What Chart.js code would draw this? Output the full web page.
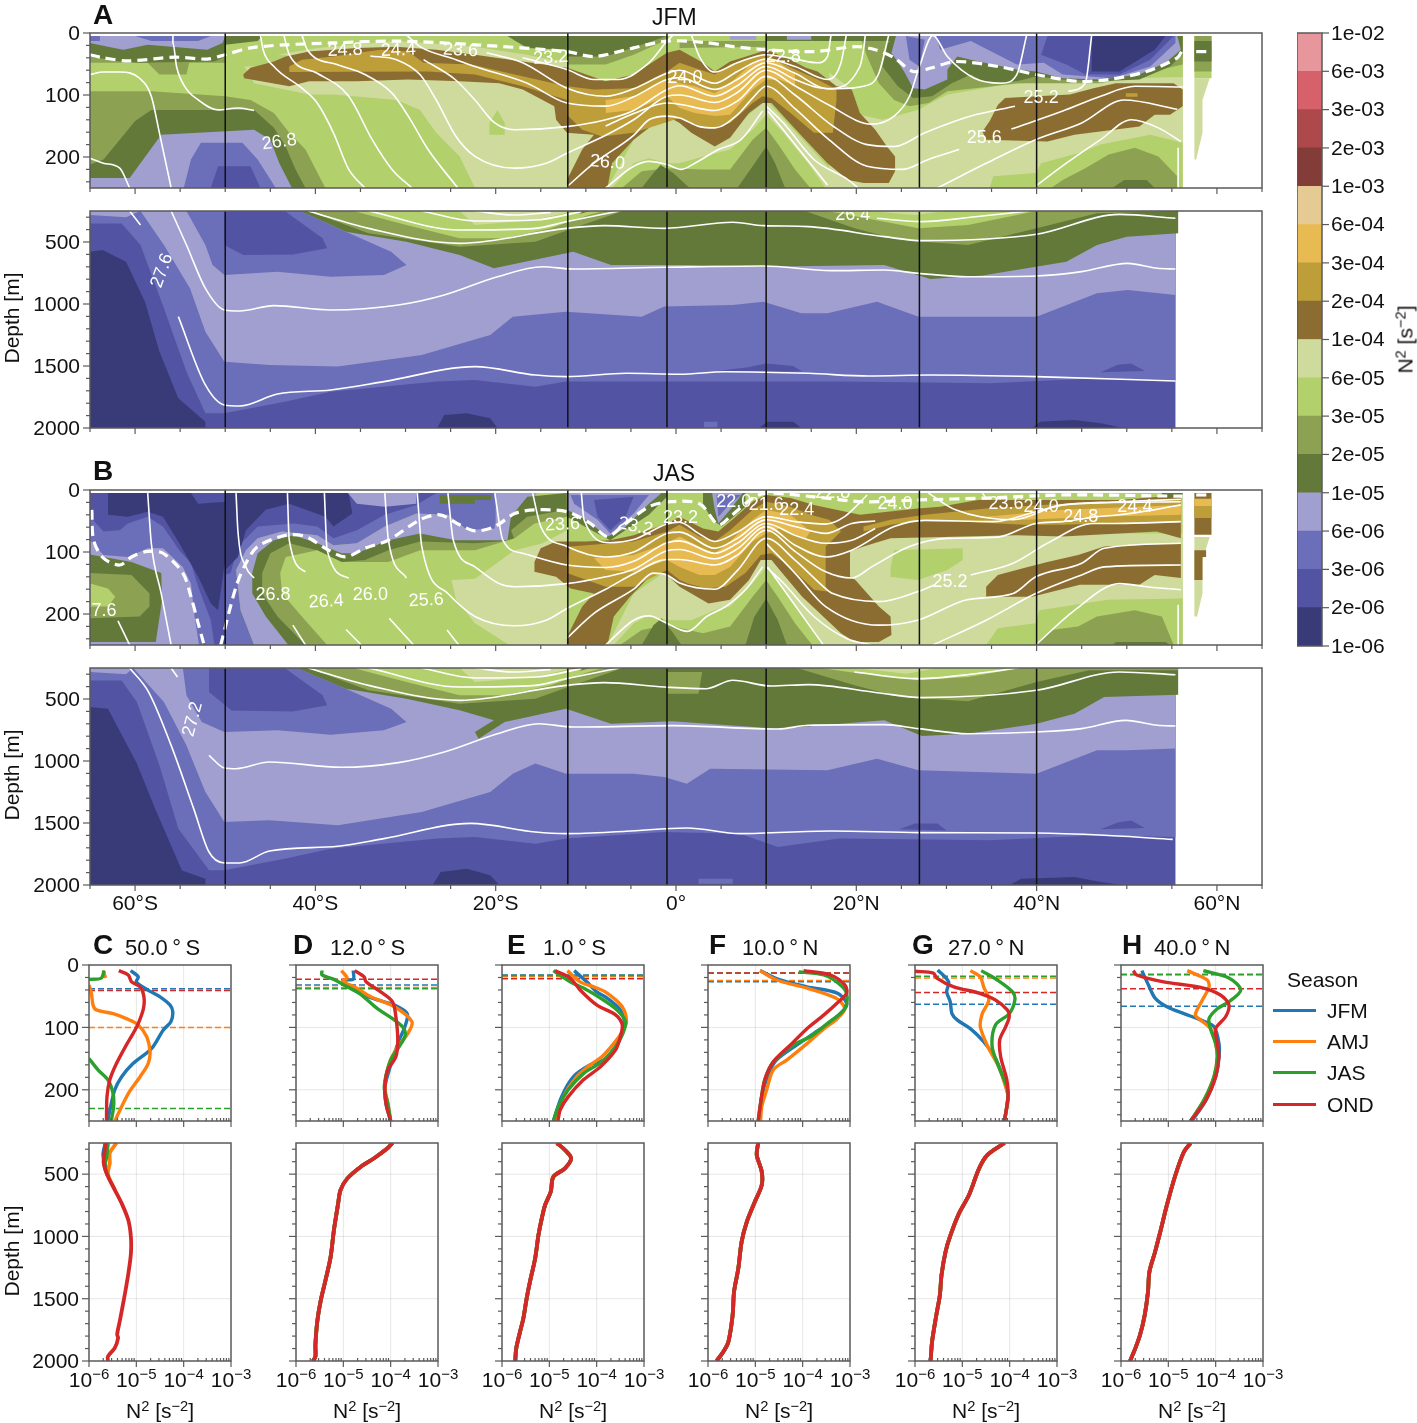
<!DOCTYPE html>
<html>
<head>
<meta charset="utf-8">
<title>N2 sections</title>
<script src="https://cdn.jsdelivr.net/npm/chart.js@4"></script>
<style>
  html, body { margin: 0; background: #fff; }
  #page { position: relative; width: 1417px; height: 1423px; overflow: hidden; font-family: "Liberation Sans", Arial, sans-serif; color: #111; }
  #page canvas { position: absolute; }
  .t { position: absolute; white-space: nowrap; line-height: 1; }
  .t sup { font-size: 0.7em; line-height: 0; vertical-align: 0.45em; }
</style>
</head>
<body>
<div id="page"></div>
<script>
// colour levels of the N2 colourbar, bottom to top
const levelColors = ["#393b79","#5254a3","#6b6eb8","#a09fd0","#637939","#8ca252","#b2d06c","#cedb9c","#8c6d31","#bd9e39","#e7ba52","#e5ca94","#843c39","#ad494a","#d6616b","#e7969c"];
const cbarLabels = ["1e-06","2e-06","3e-06","6e-06","1e-05","2e-05","3e-05","6e-05","1e-04","2e-04","3e-04","6e-04","1e-03","2e-03","3e-03","6e-03","1e-02"];

const stationLats = [-50,-12,-1,10,27,40];
const latTicks = [-60,-40,-20,0,20,40,60];
const latNames = ["60°S","40°S","20°S","0°","20°N","40°N","60°N"];
const latMinor = [-65,-55,-50,-45,-35,-30,-25,-15,-10,-5,5,10,15,25,30,35,45,50,55,65];
const upTicks = [0,100,200];
const upMinor = [20,40,60,80,120,140,160,180,220,240];
const lowTicks = [500,1000,1500,2000];
const lowMinor = [300,400,600,700,800,900,1100,1200,1300,1400,1600,1700,1800,1900];
const n2Ticks = [1e-6,1e-5,1e-4,1e-3];
const n2Exps = ["−6","−5","−4","−3"];
const n2Minor = [2e-6,3e-6,4e-6,5e-6,6e-6,7e-6,8e-6,9e-6,2e-5,3e-5,4e-5,5e-5,6e-5,7e-5,8e-5,9e-5,2e-4,3e-4,4e-4,5e-4,6e-4,7e-4,8e-4,9e-4];

// ---- section A, top 250 m: [level, lat,depth, lat,depth, ...] painted in order
const A_up = [
 [6, -65,5, 56.2,5, 56.2,250, -65,250],
 [5, -65,94,-58.2,94,-50,102,-47.2,108,-44.6,129,-42.9,161,-41.1,188,-38.9,250,-65,250],
 [4, -65,212,-63.5,204,-61.7,172,-60,142,-58.2,124,-46.8,124,-44.6,153,-43.3,183,-42.2,220,-41.1,250,-65,250],
 [3, -65,234,-60.6,234,-59.1,204,-57.1,164,-46.8,156,-45,172,-44,210,-42.6,250,-65,250],
 [2, -54.6,250,-53.8,204,-52.7,177,-48.1,177,-46.4,204,-44.4,250],
 [1, -51.6,250,-50.8,215,-47.2,215,-46.1,250],
 [5, -65,5,-50,5,-50,48,-54,48,-54.3,67,-57.3,67,-58.6,48,-65,48],
 [4, -65,5,-50,5,-50,38,-51.2,46,-59.5,48,-61.7,46,-65,38],
 [3, -65,5,-50,5,-50.3,16,-52,27,-58.6,19,-61.3,27,-63,22,-65,16],
 [2, -65,5,-63.9,5,-63.9,13,-65,13],
 [2, -60,5,-51.6,5,-53,13,-58.2,13],
 [4, -50,5,-45.9,5,-46.4,13,-50,19],
 [5, -17.9,13,-12.1,16,-12.1,51,-7.8,51,-4.7,35,-1,11,-1,5,-17.9,5],
 [4, -18.7,5,-12.1,5,-12.1,27,-16.5,24],
 [4, -12.1,5,-1,5,-3.8,19,-7.8,38,-12.1,38],
 [5, .4,13,10,13,10,22,.4,24],
 [3, 6,5,8.9,5,8.9,11,6,11],
 [4, 10,5,15,5,15,13,10,13],
 [3, 12.3,5,16.8,5,16.8,11,12.3,11],
 [7, -47.9,54,-12.1,43,-12.1,250,-22.3,250,-24,199,-26.6,161,-28.4,124,-31,108,-38,99,-40.7,99,-46.8,81],
 [7, -44.2,35,-39.8,24,-31,13,-22.3,22,-16.5,35,-12.1,48,-12.1,70],
 [6, -19.8,124,-19,145,-19,164,-20.7,164,-20.7,145],
 [7, -12.1,161,-8.7,164,-12.1,237],
 [7, 17,60,56.2,60,56.2,250,17,250],
 [6, 17.4,5,56.2,5,56.2,71,42.9,75,35.7,85,30.1,99,26.8,124,22.9,140,20.4,132,19.5,91,16.1,54],
 [5, 20.4,5,56.2,5,56.2,51,47.1,81,37.8,81,34.4,87,30.1,94,28,113,25.9,118,24.2,108,22.5,81,21.2,38],
 [4, 24.4,5,56.2,5,56.2,35,54.8,54,51.4,75,47.1,78,42.9,75,39.9,70,37.8,78,34.4,81,32.7,67,30.6,81,28.4,102,26.3,105,24.6,86,22.9,54,23.5,16],
 [4, 15,5,24.4,5,24.4,13,15,13],
 [3, 24.4,5,23.9,32,25.3,62,26.3,89,27.6,91,30.1,75,30.1,59,31.2,38,32.7,43,37.8,59,39.9,62,42.9,73,47.1,75,51.4,67,54.3,48,56,27,55.6,5],
 [2, 25.5,5,25.9,43,27,54,27.6,11],
 [2, 28.9,5,29.3,27,32.7,13,37.8,51,40.8,48,42.9,67,48.4,73,52.6,54,55.4,16,55.4,5],
 [1, 41.2,5,40.5,35,43.3,51,45.4,67,49.2,67,52.6,43,55.2,5],
 [0, 46.1,5,46.1,62,49.2,62,53.1,27,54.3,5],
 [6, 34.8,250,35.2,231,39.9,226,40.5,210,44.6,194,47.1,180,52.6,164,56.2,177,56.2,250],
 [5, 41.6,250,42.9,237,45.4,218,48,196,50.9,185,53.5,199,55.6,231,55.6,250],
 [4, 48.4,250,49.7,237,52.2,237,53.1,250],
 [8, 35.7,116,36.5,105,43.7,99,46.3,89,48.8,81,55.2,81,56.2,91,56.2,118,54.8,132,53.1,132,51.4,151,44.2,164,41.2,175,34.4,172,34,159,34.8,142],
 [9, 49.9,97,51.2,97,51.2,103,49.9,103],
 [7, -7.6,250,-4.7,172,-1,132,4.3,177,10,108,16.8,215,20.4,250],
 [6, -7.1,250,-4.7,210,-3,202,-1,210,.4,210,3,199,6,188,8.5,156,10,132,11.9,161,14.9,215,16.6,250],
 [5, -6,250,-3.8,223,-1,218,3,220,6,220,8.5,172,10,153,11.5,183,13.2,220,14.9,250],
 [4, -3.8,250,-2.5,226,-1.7,213,-.3,226,1.5,250],
 [4, 6.8,250,8.5,215,10,183,11,210,12.1,250],
 [8, -48,67,-47.2,56,-44.6,46,-43.3,38,-40.7,30,-35.4,24,-31,22,-26.6,27,-22.3,35,-17,46,-12.1,56,-7.8,78,-4.7,67,-1,32,.4,27,3,48,4.3,62,6,46,9.1,32,10,27,12.7,43,14.4,56,15.7,62,17.8,86,19.5,91,20.4,129,22.1,156,23.4,183,24.3,199,24.3,223,23.6,242,20.8,242,19.1,237,16.8,210,14,167,11.9,134,10.6,113,9.6,113,8.1,129,6,169,4.3,183,1.7,161,.4,145,-1,134,-3,153,-4.7,172,-7.1,210,-7.6,250,-12.1,250,-12.1,237,-10.4,188,-9.1,164,-12.1,161,-13.3,140,-13.5,118,-17,91,-19.6,81,-24,78,-29.7,75,-35.4,78,-40.7,78,-42.9,86,-47.9,73],
 [9, -42.9,54,-41.5,43,-38,38,-32.8,27,-29.7,30,-28,48,-22.7,51,-17.9,67,-12.1,86,-9.1,91,-4.7,89,-1,62,.4,48,2.6,59,4.3,67,6,51,9.1,35,10,35,13.2,59,15.7,75,17.8,91,17.8,108,17.4,161,15.3,161,12.7,129,10.6,105,9.6,102,8.5,113,6,145,4.3,153,2.6,151,.4,137,-4.7,161,-8.2,167,-10.4,156,-12.1,132,-12.1,108,-17,86,-22.3,67,-27.5,62,-42.9,63],
 [10, -7.8,108,-4.7,102,-1,75,.4,81,2.1,86,4.3,97,6,81,8.5,48,10,40,11.5,48,13.2,67,13.2,86,11.5,75,10,75,8.5,91,6,132,4.3,134,2.1,129,.4,121,-1,102,-4.7,124,-7.8,129],
 [6, 57.5,5,59.4,5,59.4,73,57.5,73],
 [5, 57.5,5,59.4,5,59.4,62,57.5,62],
 [4, 57.5,13,59.4,13,59.4,46,57.5,46],
 [7, 57.5,73,59.2,73,58.4,108,58.4,161,57.7,204,57.5,204]
];
// isopycnals: lat,depth pairs
const A_up_lines = [
 [-65,67,-63.5,63,-61.7,63,-59.5,73,-58.2,102,-57.3,161,-56,250],
 [-55.8,3,-55.8,16,-55.4,54,-54.5,86,-53,108,-50.8,124,-48.6,121,-46.8,125],
 [-65,202,-63.5,210,-61.7,218,-60.6,250],
 [-46.1,3,-45.8,27,-44.6,54,-41.5,89,-39.8,113,-38,161,-36.3,220,-34.5,250],
 [-43.5,3,-42.9,35,-39.8,65,-36.3,102,-33.7,172,-31.5,220,-29.3,250],
 [-41.5,3,-40.9,27,-37.6,51,-34.5,67,-31.5,97,-29.7,134,-27.5,188,-24.2,250],
 [-33.9,37,-31,43,-28.4,67,-26.6,108,-24.4,167,-22.3,199,-17.9,218,-14.4,210,-12.1,194,-7.8,165,-4.7,140,-1,102,.4,100,4.3,112,6.8,96,10,60,13.2,85,16.8,115,21.7,147,24.2,134,25.9,102,27,54,28.5,4,30.1,38,33.1,73,36.1,81,37.8,67,38.9,3],
 [-28,43,-24.5,75,-22.3,108,-20.1,145,-17.9,156,-12.1,151,-7.8,140,-4.7,125,-1,91,.4,85,4.3,102,6.8,85,10,54,13.2,75,15.7,88,17.8,90,20.8,86,22.5,65,23.6,3],
 [-21,32,-17,48,-12.1,89,-7.8,102,-4.7,90,-1,65,.4,60,4.3,81,6.8,62,10,42,13.2,54,16.8,75,18.3,48,18.9,3],
 [-29.9,3,-28.4,22,-24.4,43,-22.3,54,-16.5,81,-12.1,113,-7.8,118,-4.7,103,-1,75,.4,72,4.3,91,6.8,75,10,48,13.2,65,16.8,90,20.4,54,20.8,27,21,3],
 [-17,40,-12.1,59,-9.1,75,-6.4,75,-3,48,-1,13,-.3,3],
 [1.7,3,2.6,38,4.3,63,6.8,48,10,35,13.2,42,15.7,48,16.8,38,17.2,3],
 [-7.8,150,-4.7,130,-1,113,.4,115,4.3,125,6.8,110,10,70,13.2,100,17.4,150,21.2,180,24.2,183,27.6,161,32.7,134,37.6,118],
 [43.5,94,45.4,81,46.1,5],
 [-12.1,248,-9.1,210,-4.7,165,-3,140,-1,134,.4,137,2.6,151,4.3,153,6.8,132,8.5,105,10,86,13.2,122,16.8,170,21.2,215,25.1,220,28,204,31.4,188],
 [37.2,155,42.9,126,47.1,102,50.9,86,56.2,87],
 [-7.8,250,-4.7,215,-3,207,-1,212,.6,220,2.1,210,4.7,188,7.2,172,9.6,126],
 [10.2,126,11.9,156,16.8,245],
 [10,118,11.9,145,15.3,204,19.1,237,20.2,250],
 [29,250,34.4,210,39.9,172,45,145,49.7,108,55.6,123],
 [39.9,247,43.3,210,47.1,172,50.5,140,53.5,153,56,175],
 [55.7,185,55.7,250]
];
const A_up_mld = [[-65,35,-63.5,40,-60.8,45,-55.6,39,-52,42,-50,35,-47.2,24,-43.3,19,-38,16,-31,13,-22.3,19,-12.1,30,-9.1,38,-4.7,24,-1,13,3,15,6.4,22,10,27,15.3,30,20,22,22.1,27,24.2,40,26.3,62,28.4,56,31,46,35.7,54,39.9,67,44.6,78,48,75,52.2,62,55.6,40,56.2,27],[57.7,30,59,30]];
const A_up_text = [[-36.7,28,"24.8",-2],[-30.8,28,"24.4",-2],[-23.9,28,"23.6",3],[-13.9,40,"23.2",-3],[-44,176,"26.8",-8],[-7.6,209,"26.0",5],[1,72,"24.0",0],[11.9,39,"22.8",0],[40.5,105,"25.2",0],[34.2,169,"25.6",0]];

// ---- section A, 250 to 2000 m
const A_low = [
 [1, -65,250,55.4,250,55.4,2000,-65,2000],
 [2, 55.4,1613,46.7,1599,34.9,1640,18.1,1626,1.2,1626,-12.2,1626,-15.6,1667,-22.3,1613,-26.5,1626,-38.3,1707,-43.4,1788,-50.1,1882,-52.2,1882,-54.3,1546,-56.8,1035,-59.4,524,-61.5,350,-65,350,-65,250,55.4,250],
 [1, 4.6,1540,8,1510,10,1480,13,1500,14,1545],
 [1, 47.1,1550,49,1490,50.5,1480,52,1540],
 [3, 55.4,927,50.1,887,46.7,914,40,1102,26.9,1102,22.3,981,16.8,1075,13.9,1075,9.7,981,6.3,1008,-1.3,1021,-3.8,1102,-12.2,1062,-18.1,1102,-20.6,1250,-28.2,1411,-37.5,1505,-45.1,1492,-50.1,1465,-52.2,1223,-53.9,874,-56.8,524,-59.4,250,55.4,250],
 [3, -65,250,-59.4,250,-61,300,-65,282],
 [2, -54.3,250,-41.7,250,-37.5,390,-31.6,578,-29.9,685,-32.4,766,-38.3,780,-44.2,739,-50.1,766,-51.4,685,-52.2,524],
 [1, -50.1,250,-43.4,250,-39.2,470,-38.7,551,-42.5,600,-48,605,-50.1,524],
 [0, -65,578,-63.6,564,-61,659,-58.9,981,-57.3,1384,-55.2,1761,-52.2,1949,-52.2,2000,-65,2000],
 [0, -26.5,2000,-25.7,1895,-23.2,1882,-20.6,1922,-19.8,2000],
 [0, 9.2,2000,10.1,1949,13,1949,13.9,2000],
 [0, 39.5,2000,40.4,1949,44.2,1935,47.1,1962,49.6,2000],
 [2, 3.1,1950,4.6,1950,4.6,2000,3.1,2000],
 [4, 55.7,250,55.7,430,50,457,46.7,524,43.3,659,34,771,28.2,799,23.1,685,9.7,700,1.2,685,-7.2,685,-11.4,578,-20.2,712,-24,605,-29.9,497,-36.6,417,-41.7,250],
 [5, -40.8,250,-34.1,430,-24,538,-15.6,497,-11.4,390,-5.9,250],
 [5, 14.3,250,19.8,390,24.8,484,32.4,524,40,390,46.7,269,55.7,250],
 [6, -35.8,250,-29.9,363,-24,470,-19,470,-13.9,390,-9.7,282,-8,250],
 [6, 16.8,250,23.1,336,26.9,390,32.4,363,40,250],
 [7, -24,250,-22.3,363,-15.6,323,-11.4,250],
 [7, 21.4,250,26.5,282,29.9,250],
 [8, -12.2,250,-9.5,250,-10.5,270]
];
const A_low_lines = [
 [-60.6,250,-59.4,363],
 [-56,250,-54.3,524,-52.2,874,-50.1,1048,-48.4,1056,-44.6,1013,-38.3,1048,-30.8,1008,-25.7,927,-19.8,780,-14.8,699,-11.4,718,-1.3,704,9.7,693,17.2,731,23.1,726,26.9,753,32.4,780,40,774,45,739,50.1,672,53.4,712,55.4,718],
 [-55.2,1102,-52.2,1653,-50.1,1814,-48.4,1822,-44.2,1726,-38.3,1693,-32.4,1626,-22.3,1505,-15.6,1573,-12.2,1586,-5.5,1559,.4,1567,5.4,1546,14.7,1559,21.4,1581,28.2,1573,40,1586,55.4,1621],
 [-40.8,250,-34.1,390,-24,511,-12.2,390,-8,368,-1.3,390,6.3,341,9.7,368,14.7,376,23.1,457,27.3,489,40,438,49.2,277,55.4,309],
 [-34.1,250,-24,403,-15.6,390,-12.2,336,-6.3,250],
 [-28.2,250,-22.3,331,-15.6,323,-10.5,255],
 [-22.3,250,-18.1,282,-13.9,261],
 [22.3,309,27.3,336,33.2,296,39.1,250]
];
const A_low_text = [[-57,731,"27.6",-70],[19.6,282,"26.4",0]];

// ---- section B, top 250 m
const B_up = [
 [6, -50,5, 56.2,5, 56.2,250, -50,250],
 [3, -65,5,-50,5,-50,250,-65,250],
 [4, -65,104,-60.4,116,-57.1,134,-57,177,-57.7,245,-65,245],
 [5, -65,134,-60.4,137,-58.4,167,-58.4,188,-59.5,204,-65,207],
 [6, -65,151,-63,159,-62.2,172,-63,188,-65,188],
 [2, -65,81,-63.5,105,-60.8,108,-58.6,94,-56.9,94,-54.7,124,-53.8,151,-53.4,204,-52.9,250,-50,250,-50,5,-65,5],
 [3, -65,16,-63,16,-63,40,-65,40],
 [1, -65,43,-63.5,67,-61.7,65,-60.8,54,-58.6,43,-56.9,59,-55.1,97,-53.8,118,-53,156,-51.6,210,-51.2,250,-50,250,-50,5,-65,5],
 [0, -63,5,-63,40,-60.8,43,-58.6,35,-56.9,43,-55.1,86,-53,140,-51.6,183,-50.8,194,-50,113,-50,5],
 [1, -53.8,5,-50,5,-50,19,-53,22],
 [3, -46.8,250,-48.3,194,-48.8,129,-47.7,97,-46.4,78,-43.7,67,-39.8,73,-38,89,-35.4,86,-32.3,59,-28.8,38,-25.3,40,-23.1,65,-20.5,62,-20.1,5,-15.5,5,-15.5,81,-43,250],
 [4, -43,250,-45.5,204,-47,167,-47,134,-46.4,102,-44.6,81,-42.4,73,-39.8,86,-37.1,102,-35.4,102,-31.9,81,-28.4,70,-24.4,81,-18.7,81,-18.3,43,-16.5,11,-12.1,5,-12.1,250],
 [5, -41.1,250,-44.2,204,-45.9,167,-45.9,134,-45,102,-42.9,86,-39.8,97,-37.1,116,-34.5,113,-31.9,97,-28.4,83,-22.3,86,-17.9,81,-18.3,65,-16.5,43,-12.1,32,-12.1,250],
 [6, -38.7,250,-41.5,204,-43.7,167,-43.9,134,-43.3,108,-39.8,97,-37.1,116,-31.9,116,-28.4,97,-22.3,97,-17.9,78,-15.7,54,-12.1,43,-12.1,250],
 [7, -18.5,250,-22.3,215,-24.4,177,-24.9,145,-22.3,143,-17.9,97,-14.8,86,-12.1,65,-12.1,250],
 [2, -50,5,-20.1,5,-20.1,62,-23.1,65,-25.3,40,-28.8,38,-32.3,59,-35.4,86,-38,89,-39.8,73,-43.7,67,-46.4,78,-47.7,97,-48.8,129,-48.3,194,-46.8,250,-50,250],
 [1, -50,5,-26.6,5,-28.8,24,-32.3,40,-35.4,65,-38,78,-39.8,59,-42.4,54,-46.4,59,-48.6,91,-49.4,134,-50,137],
 [0, -50,5,-36.3,5,-35.9,38,-38,59,-38.9,43,-42.9,22,-45.5,32,-47.7,65,-48.6,108,-50,129],
 [3, -36.4,5,-28.8,5,-28.8,22,-32.3,27,-35.4,22],
 [4, -26.2,8,-20.5,8,-20.5,22,-26.2,22],
 [2, -22.3,16,-20,16,-20,54,-22.3,54],
 [4, -12.1,5,-1,5,-1,11,-3,40,-7.3,81,-8.7,70,-12.1,43],
 [3, -12.1,5,-1.6,5,-3,22,-6,65,-7.6,75,-10,48,-12.1,32],
 [2, -11.7,8,-3,8,-4.7,38,-7.3,70,-8.7,48,-11.3,22],
 [1, -9.1,16,-4.7,11,-5.6,43,-7.3,65,-8.7,43],
 [7, 18,70,56.2,70,56.2,250,18,250],
 [6, 23.8,126,24.2,97,31.8,94,31.8,113,30.1,129,26.8,145,23.8,140],
 [6, 34.4,250,35.7,223,39.9,215,40.3,194,47.9,177,56.2,175,56.2,250],
 [5, 39.9,250,41.6,226,44.6,220,46.7,204,50.9,194,53.9,204,55.2,250],
 [4, 48.4,250,48.8,245,54.3,245,54.8,250],
 [7, -7.6,250,-4.7,167,-1,130,4.3,170,10,100,16.8,205,20.4,250],
 [6, -6.9,250,-4.7,215,-3,202,-1,210,1.7,210,4.3,194,6,188,8.5,151,10,124,11.9,159,14.9,218,16.3,250],
 [5, -6.2,250,-3.8,226,-1,218,3,231,6,220,8.5,172,10,145,11.5,177,13.2,215,15.1,250],
 [4, -3.8,250,-2.5,218,-1.6,207,-.3,231,.6,250],
 [4, 7.7,250,8.7,204,10,175,11.3,210,12.3,250],
 [8, -15,94,-13.3,83,-10,83,-7.3,81,-4.7,73,-1,54,.4,43,3,62,4.7,67,6.4,46,8.5,19,10,8,12.7,13,15.3,24,20.4,40,26.8,30,29.3,27,33.5,16,49.2,16,56,8,56,78,53.3,67,42.9,75,37.8,73,23.8,78,20.8,91,19.3,99,19.3,140,19.9,145,22.5,188,23.8,204,23.9,234,22.5,245,19.8,245,18.3,231,14,172,11.5,129,10.6,113,9.4,113,8.1,145,6,177,3.6,183,1.7,167,.4,156,-1,137,-2.5,134,-5.1,172,-6.9,204,-7.6,250,-12.1,250,-12.1,237,-10.4,188,-9.1,167,-11.7,159,-13.3,140,-15.7,132,-15.7,116],
 [9, -11.7,91,-4.7,83,-1,67,.4,56,2.6,75,4.3,83,6,65,8.5,32,10,19,12.7,27,14.9,40,17,48,18.3,67,16.6,91,16.6,156,17,164,15.3,161,12.7,124,10.6,102,9.4,105,7.7,134,5.5,156,3.4,159,1.3,151,.4,145,-1,129,-4.7,156,-7.8,156,-12.1,134,-12.1,108],
 [9, 20.8,59,23.8,48,27.6,40,34.4,30,42.9,22,56,15,56,51,42.9,56,38.6,56,27.6,48,23.8,56,20.8,67],
 [10, -9.1,110,-4.7,105,-1,86,.4,75,2.6,91,4.3,102,6,83,8.5,48,10,32,12.7,40,14.9,67,14.4,78,11.5,62,10,70,8.5,83,6,124,4.3,137,2.6,137,.4,124,-1,113,-4.7,132,-7.8,129],
 [10, 34.4,43,42.9,32,56,24,56,40,47.1,43,38.6,48],
 [8, 34.4,156,35.7,137,38.6,126,41.2,116,44.6,105,47.5,91,56,86,56,142,53.1,137,51.4,153,44.8,153,39.5,172,34.4,172],
 [4, 53.9,5,56.2,5,56.2,12,53.9,12],
 [4, 3,5,7.7,5,7.7,27,5.1,59,4,48,3,22],
 [3, 4,5,7.4,5,6,32,4.7,54,4.3,32],
 [2, 4.5,8,7.2,8,5.7,27,4.7,43],
 [8, 57.5,5,59.4,5,59.4,72,57.5,72],
 [10, 57.5,14,59.4,14,59.4,26,57.5,26],
 [9, 57.5,26,59.4,26,59.4,45,57.5,45],
 [7, 57.5,76,59.2,76,58.4,113,58.4,167,57.8,204,57.5,204],
 [8, 57.5,97,58.8,97,58.8,108,58.4,108,58.4,145,57.5,145]
];
const B_up_lines = [
 [-58.6,5,-58.2,86,-57.1,167,-56,250],
 [-61.9,211,-60.6,250],
 [-48.8,5,-48.6,65,-47.7,124,-46.8,142],
 [-43.1,5,-42.9,81,-41.1,132],
 [-42.5,218,-41.1,250],
 [-39,5,-38.7,97,-36.3,142],
 [-36.6,225,-34.9,250],
 [-32.3,5,-31.9,81,-29.9,142],
 [-31.8,207,-29.1,250],
 [-25.4,226,-24.1,250],
 [-10.5,5,-10.2,48,-7.3,85,-4.7,80,-1,55,.4,52,2.5,70,4.3,83,6.8,68,10,43,13.2,51,16.6,55,18.7,43,21.2,8],
 [-15.9,5,-15,59,-12.1,91,-7.8,108,-4.7,100,-1,70,.4,68,4.3,94,6.8,78,10,48,13.2,59,16.6,70,19.5,54,22.1,50],
 [-20.1,5,-19.2,81,-17,102,-12.1,121,-7.8,125,-4.7,115,-1,85,.4,82,4.3,102,6.8,86,10,54,13.2,73,16.6,86,19.5,81,22.1,62],
 [-25.3,5,-24.7,81,-22.3,124,-19.6,151,-17.9,156,-12.1,151,-7.8,140,-4.7,128,-1,98,.4,96,4.3,111,6.8,95,10,59,13.2,89,16.6,108,19.5,97,24.2,59,27.6,49,35.2,51,39.7,36,42.9,24,49,19,56,15],
 [-28.7,5,-28.2,91,-25.3,167,-22.3,204,-17.9,219,-14.4,210,-12.1,191,-7.8,160,-4.7,135,-1,112,.4,112,4.3,121,6.8,105,10,65,13.2,99,16.6,132,19.5,142,21.7,124,25.9,91,30.1,78,35.7,76,39.9,54,42.9,51,46.7,43,49.2,40,53,32,56,24],
 [-12.1,239,-9.1,199,-4.7,160,-2.5,134,-1,137,.4,150,4.3,160,6.8,130,10,78,13.2,113,16.6,159,17.4,167,22.5,180,26.8,164,28.7,153],
 [32.7,137,37.4,118,41.2,86,46.3,54,48.8,54,56,51],
 [-7.8,250,-4.7,210,-3,203,-1,215,.6,226,1.3,228,3.4,204,5.5,188,7.7,161,9.6,124],
 [10,86,13.2,134,16.6,188,22.5,218,26.8,210,32.3,177,37.4,167,39.9,140,45,118,47.5,94,56,86],
 [10,124,11.9,150,15.3,204,19,240,21.7,250],
 [10.2,125,16.3,249],
 [28.5,250,34.4,210,39.9,167,45,137,47.5,124,56,121],
 [39.9,250,44.2,194,49.2,151,52.2,156,56,161],
 [55.7,185,55.7,250],
 [28,5,31,32,37.4,48,42.9,24,56,19],
 [34,5,34.4,13]
];
const B_up_mld = [[-64.8,32,-64.6,81,-63.5,110,-61.7,121,-60.4,108,-58.6,99,-56.9,102,-54.7,134,-53.8,172,-53,215,-52.4,247],[-50.5,250,-48.8,156,-47.7,118,-46.4,91,-43.3,73,-41.1,75,-38.9,94,-36.7,108,-34.5,94,-31.9,81,-28.4,48,-26.2,40,-24,56,-22.3,66,-20.1,59,-17.9,38,-15.7,32,-12.1,35,-9.5,54,-7.6,75,-5.6,54,-3,27,-.8,19,2.6,22,4.7,56,6,43,8.5,13,10,5,15.3,11,20.8,19,27,16,34.4,13,42.9,8,56.2,10],[57.7,8,59.2,8]];
const B_up_text = [[-64,195,"27.6",0],[-44.7,169,"26.8",0],[-38.8,180,"26.4",-3],[-33.9,169,"26.0",0],[-27.7,178,"25.6",-3],[-12.6,56,"23.6",-3],[-4.5,59,"23.2",12],[.5,46,"23.2",0],[6.4,19,"22.0",0],[10,24,"21.6",0],[13.4,32,"22.4",0],[17.4,5,"22.8",0],[24.3,22,"24.0",0],[36.6,22,"23.6",0],[40.5,28,"24.0",0],[44.9,43,"24.8",0],[50.9,27,"24.4",0],[30.4,149,"25.2",0]];

// ---- section B, 250 to 2000 m
const B_low = [
 [1, -65,250,55.4,250,55.4,2000,-65,2000],
 [2, 55.4,1613,46.7,1599,34.9,1640,18.1,1626,11.3,1693,7.1,1586,-1.3,1573,-12.2,1626,-15.6,1667,-22.3,1613,-26.5,1626,-38.3,1707,-43.4,1788,-50.1,1882,-51.8,1882,-55.2,1546,-57.3,1035,-59.8,524,-61.5,350,-65,350,-65,250,55.4,250],
 [1, 24.8,1550,26.5,1505,29,1505,30,1560],
 [1, 47.1,1550,49,1495,50.5,1480,52,1540],
 [3, 55.4,900,50.1,914,46.7,914,40,1102,26.9,1075,22.3,981,16.8,1075,3.8,1062,1.2,1183,-1.3,1129,-4.7,1102,-12.2,1102,-15.6,1021,-18.1,1102,-20.6,1250,-28.2,1411,-37.5,1519,-45.1,1478,-50.1,1492,-52.2,1250,-54.3,874,-56.8,524,-60.2,250,55.4,250],
 [3, -65,250,-60.2,250,-61,300,-65,282],
 [2, -54.7,250,-42.1,250,-37.5,390,-31.6,578,-29.9,685,-32.4,753,-38.3,788,-44.2,753,-50.1,766,-52.6,685,-54.3,470],
 [1, -51.8,250,-43.4,250,-39.2,470,-38.7,551,-42.5,600,-49.3,592,-51.8,444],
 [0, -65,564,-63,578,-59.8,1021,-57.7,1397,-54.8,1884,-52.2,1949,-52.2,2000,-65,2000],
 [0, -27,2000,-26.1,1895,-23.2,1868,-20.6,1922,-19.6,2000],
 [0, 37,2000,38.3,1949,44.2,1935,47.1,1975,49.6,2000],
 [2, 2.5,1950,6.3,1950,6.3,1990,2.5,1990],
 [4, 55.7,250,55.7,465,47.5,484,44.2,618,40,699,32.4,780,27.3,799,23.1,672,11.3,739,-.4,680,-7.2,699,-12.2,578,-19,685,-21.9,820,-22.3,766,-20.2,672,-24,591,-29.9,497,-36.6,417,-42.1,250],
 [5, -40.8,250,-34.1,430,-24,538,-15.6,497,-11.4,390,-5.9,250],
 [5, 13.4,250,19.8,390,24.8,484,32.4,518,40,363,45.8,269,55.7,269,55.7,250],
 [5, -.9,282,2.9,282,2.5,457,-.9,457],
 [6, -35.8,250,-29.9,363,-24,470,-19,470,-13.9,390,-9.7,282,-8,250],
 [6, 16,250,23.1,323,26.9,349,32.4,323,38.3,250],
 [7, -24,250,-22.3,363,-15.6,323,-11.4,250],
 [7, 19.8,250,25.6,296,29,250],
 [8, -12.2,250,-9.5,250,-10.5,270]
];
const B_low_lines = [
 [-60.6,250,-58.5,444,-56,874,-53.5,1384,-51.8,1734,-50.1,1822,-48.4,1822,-45.1,1726,-37.5,1688,-32.4,1626,-22.8,1503,-15.6,1573,-12.2,1586,-5.5,1567,1.2,1540,7.1,1586,17.2,1564,26.9,1578,40,1581,47.5,1599,55.1,1632],
 [-56,250,-55.3,323],
 [-51.8,954,-50.1,1056,-48.8,1062,-45.1,1008,-37.1,1051,-30.8,1013,-25.7,927,-19.8,780,-15.2,699,-11.4,726,-.4,715,11.3,742,14.7,712,23.1,707,26.9,739,32.4,780,40,766,45,739,49.9,672,53.4,712,55.4,718],
 [-40.8,250,-34.1,390,-24,511,-12.2,390,-8,368,-1.3,403,3.3,417,6.3,349,10.5,395,14.7,384,22.3,449,27.3,489,40,430,49.2,282,55.4,304],
 [-34.1,250,-24,403,-15.6,390,-12.2,336,-6.3,250],
 [-28.2,250,-22.3,331,-15.6,323,-10.5,255],
 [-22.3,250,-18.1,282,-13.9,261],
 [19.8,282,26.9,336,33.2,296,37.9,250]
];
const B_low_text = [[-53.6,664,"27.2",-75]];

// ---- profiles: [log10 N2, depth] pairs, null breaks a line
const C_jfm = [-5.12,9,-4.96,19,-5,27,-4.78,39,-4.5,51,-4.29,64,-4.23,75,-4.27,91,-4.43,104,-4.68,134,-5.07,158,-5.31,179,-5.455,200,-5.56,233,-5.6,250];
const C_amj = [-5.7,9,-5.65,21,null,null,-6,32,-5.95,45,-5.915,64,-5.845,72,-5.49,78,-5.21,86,-4.96,96,-4.78,115,-4.71,139,-4.75,158,-4.92,179,-5.17,206,-5.38,238,-5.455,250];
const C_jas = [-5.68,9,-5.74,21,-6,23,null,null,-6,150,-5.81,168,-5.6,184,-5.49,206,-5.48,227,-5.53,250];
const C_ond = [-5.37,9,-5.17,16,-5.1,27,-4.92,35,-4.84,51,-4.85,70,-4.96,94,-5.07,110,-5.21,128,-5.42,158,-5.56,184,-5.62,211,-5.63,250];
const C_mld = [38,100,230,41];
const D_jfm = [-4.79,9,-4.79,23,-4.99,24,-4.92,32,-4.67,45,-4.28,56,-3.92,64,-3.65,78,-3.7,99,-3.82,120,-3.92,142,-4.03,168,-4.12,195,-4.1,222,-4,250];
const D_amj = [-5.04,9,-4.92,21,-5.02,26,-4.77,35,-4.42,51,-3.92,67,-3.55,91,-3.64,110,-3.85,131,-4.03,158,-4.12,195,-4.06,222,-4,250];
const D_jas = [-5.45,9,-5.45,16,-5.2,23,-4.99,32,-4.67,45,-4.28,70,-3.96,86,-3.75,99,-3.69,112,-3.82,131,-4,152,-4.135,195,-4.06,222,-4,250];
const D_ond = [-4.76,9,-4.56,19,-4.52,27,-4.21,43,-3.96,59,-3.89,83,-3.85,120,-3.89,147,-4.06,168,-4.12,195,-4.1,222,-4,250];
const D_mld = [32,36,38,23];
const E_jfm = [-4.475,9,-4.21,27,-4,43,-3.78,53,-3.5,72,-3.41,94,-3.46,110,-3.6,131,-3.85,152,-4.135,160,-4.49,179,-4.74,211,-4.915,250];
const E_amj = [-4.62,9,-4.35,27,-4.06,35,-3.78,45,-3.46,67,-3.37,91,-3.46,107,-3.64,126,-3.89,147,-4.135,160,-4.42,179,-4.7,211,-4.88,250];
const E_jas = [-4.915,9,-4.56,27,-4.28,37,-3.92,53,-3.57,72,-3.39,91,-3.46,112,-3.6,131,-3.89,155,-4.28,174,-4.6,200,-4.81,227,-4.915,250];
const E_ond = [-4.88,9,-4.56,21,-4.35,40,-4,64,-3.6,80,-3.46,96,-3.5,115,-3.6,136,-3.92,163,-4.28,184,-4.6,211,-4.77,232,-4.82,250];
const E_mld = [16,19,17,22];
const F_jfm = [-4.9,9,-4.475,24,-3.91,35,-3.27,45,-3.07,61,-3.13,72,-3.41,91,-3.77,110,-4.12,128,-4.55,152,-4.72,174,-4.865,211,-4.915,250];
const F_amj = [-4.9,9,-4.55,24,-3.91,37,-3.3,53,-3.11,70,-3.27,86,-3.55,102,-3.91,126,-4.33,152,-4.62,168,-4.76,200,-4.865,227,-4.89,250];
const F_jas = [-4.085,11,-3.55,16,-3.16,35,-3.06,51,-3.13,72,-3.48,94,-3.84,115,-4.19,128,-4.62,155,-4.8,184,-4.89,222,-4.94,250];
const F_ond = [-3.98,9,-3.41,16,-3.11,32,-3.07,45,-3.27,61,-3.55,80,-3.91,102,-4.23,126,-4.62,155,-4.8,184,-4.89,222,-4.94,250];
const F_mld = [27,25,13,13];
const G_jfm = [-5.52,8,-5.29,27,-5.33,43,-5.255,59,-5.22,78,-5.11,88,-4.83,102,-4.55,123,-4.3,150,-4.12,184,-4.035,211,-4.11,250];
const G_amj = [-4.83,9,-4.62,19,-4.55,35,-4.44,56,-4.58,78,-4.62,99,-4.46,131,-4.23,163,-4.085,195,-4.035,211,-4.11,250];
const G_jas = [-4.6,9,-4.26,24,-3.94,43,-3.89,56,-4.01,78,-4.3,96,-4.37,131,-4.23,163,-4.06,195,-4.035,211,-4.11,250];
const G_ond = [-6,10,-5.61,13,-5.54,21,-5.18,35,-4.65,45,-4.3,56,-4.05,72,-4.01,83,-4.085,99,-4.21,120,-4.19,147,-4.06,184,-4.035,211,-4.11,250];
const G_mld = [63,21,18,44];
const H_jfm = [-5.56,9,-5.42,32,-5.28,53,-5.03,67,-4.67,78,-4.32,88,-4.035,99,-3.93,126,-3.93,147,-4,179,-4.21,217,-4.5,250];
const H_amj = [-4.6,9,-4.18,24,-4.14,35,-4.28,56,-4.43,80,-4.32,88,-4.11,102,-4,126,-3.965,147,-4.035,179,-4.25,217,-4.53,250];
const H_jas = [-4.26,9,-3.72,21,-3.47,40,-3.72,59,-3.965,70,-4.14,86,-4.11,102,-4,126,-3.965,147,-4.035,179,-4.25,217,-4.53,250];
const H_ond = [-5.74,9,-5.67,16,-5.1,27,-4.32,36,-3.9,48,-3.72,64,-3.79,83,-4,102,-3.965,126,-3.93,147,-4,179,-4.21,217,-4.53,250];
const H_mld = [66,16,15,38];

const C_low = [-5.65,250,-5.67,317,-5.69,410,-5.6,518,-5.455,626,-5.31,734,-5.17,869,-5.115,1004,-5.115,1139,-5.17,1301,-5.26,1500,-5.35,1680,-5.405,1787,-5.385,1815,-5.455,1895,-5.6,1962,-5.6,2000];
const C_low_amj = [-5.42,250,-5.56,330,-5.56,410,-5.6,500,-5.455,626];
const C_low_jas = [-5.6,250,-5.63,360,-5.67,440,-5.6,518];
const C_low_jfm = [-5.65,250,-5.7,340,-5.67,410,-5.6,518];
const D_low = [-3.96,250,-4.06,290,-4.35,372,-4.63,440,-4.915,534,-5.06,628,-5.11,736,-5.2,952,-5.27,1168,-5.38,1357,-5.48,1519,-5.55,1681,-5.59,1870,-5.59,1964,-5.64,2000];
const E_low = [-4.84,250,-4.67,306,-4.54,373,-4.67,454,-4.915,521,-4.97,641,-5.09,748,-5.16,856,-5.23,990,-5.3,1177,-5.41,1365,-5.48,1499,-5.55,1660,-5.62,1767,-5.7,1901,-5.72,2000];
const F_low = [-4.94,250,-4.97,346,-4.865,480,-4.865,588,-5.01,722,-5.18,883,-5.29,1043,-5.36,1258,-5.45,1445,-5.48,1633,-5.57,1847,-5.68,1928,-5.82,2000];
const G_low = [-4.11,250,-4.47,346,-4.645,454,-4.86,668,-5.07,815,-5.25,990,-5.355,1124,-5.44,1311,-5.475,1472,-5.55,1633,-5.64,1847,-5.67,2000];
const H_low = [-4.53,250,-4.67,320,-4.85,507,-5.03,748,-5.17,963,-5.28,1124,-5.4,1284,-5.43,1445,-5.5,1633,-5.6,1794,-5.7,1901,-5.81,2000];

const seasons = ["JFM","AMJ","JAS","OND"];
const seasonColors = ["#1f77b4","#ff7f0e","#2ca02c","#d62728"];

// ---- helpers
const page = document.getElementById("page");
const FONT = '"Liberation Sans", Arial, sans-serif';
const EDGE = "#5a5a5a";

function txt(x, y, s, size, extra) {
  const d = document.createElement("div");
  d.className = "t";
  d.innerHTML = s;
  d.style.left = x + "px";
  d.style.top = (y - size / 2) + "px";
  d.style.fontSize = size + "px";
  if (extra) Object.assign(d.style, extra);
  page.appendChild(d);
  return d;
}

function pairs(flat, mapX) {
  const out = [];
  for (let i = 0; i < flat.length; i += 2) {
    if (flat[i] === null) out.push({ x: NaN, y: NaN });
    else out.push({ x: mapX ? mapX(flat[i]) : flat[i], y: flat[i + 1] });
  }
  return out;
}

// ticks, frame and grid are drawn by hand so they sit exactly like the original
const framePlugin = {
  id: "frame",
  beforeDatasetsDraw(chart, args, o) {
    if (!o.gridX && !o.gridY) return;
    const { ctx, chartArea: a, scales } = chart;
    ctx.save();
    ctx.strokeStyle = "rgba(0,0,0,0.1)";
    ctx.lineWidth = 1;
    (o.gridX || []).forEach(v => { const p = scales.x.getPixelForValue(v); ctx.beginPath(); ctx.moveTo(p, a.top); ctx.lineTo(p, a.bottom); ctx.stroke(); });
    (o.gridY || []).forEach(v => { const p = scales.y.getPixelForValue(v); ctx.beginPath(); ctx.moveTo(a.left, p); ctx.lineTo(a.right, p); ctx.stroke(); });
    ctx.restore();
  },
  afterDraw(chart, args, o) {
    const { ctx, chartArea: a, scales } = chart;
    ctx.save();
    if ((o.text || []).length) {
      ctx.save();
      ctx.beginPath(); ctx.rect(a.left, a.top, a.right - a.left, a.bottom - a.top); ctx.clip();
      ctx.fillStyle = "#fff";
      ctx.font = "18px " + FONT;
      ctx.textAlign = "center"; ctx.textBaseline = "middle";
      o.text.forEach(([lat, dep, s, rot]) => {
        ctx.save();
        ctx.translate(scales.x.getPixelForValue(lat), scales.y.getPixelForValue(dep));
        ctx.rotate((rot || 0) * Math.PI / 180);
        ctx.fillText(s, 0, 0);
        ctx.restore();
      });
      ctx.restore();
    }
    // 10 with a raised exponent under the log axis
    if (o.powers) {
      ctx.fillStyle = "#111";
      ctx.textBaseline = "alphabetic"; ctx.textAlign = "left";
      n2Ticks.forEach((v, i) => {
        const p = scales.x.getPixelForValue(v);
        ctx.font = "21px " + FONT;
        const w10 = ctx.measureText("10").width;
        ctx.font = "15px " + FONT;
        const wE = ctx.measureText(n2Exps[i]).width;
        const x0 = p - (w10 + wE) / 2;
        ctx.font = "21px " + FONT;
        ctx.fillText("10", x0, a.bottom + 26);
        ctx.font = "15px " + FONT;
        ctx.fillText(n2Exps[i], x0 + w10, a.bottom + 18);
      });
    }
    ctx.strokeStyle = EDGE;
    ctx.lineWidth = 1.5;
    ctx.strokeRect(a.left, a.top, a.right - a.left, a.bottom - a.top);
    const tick = (x0, y0, x1, y1) => { ctx.beginPath(); ctx.moveTo(x0, y0); ctx.lineTo(x1, y1); ctx.stroke(); };
    ctx.lineWidth = 1.2;
    (o.xMajor || []).forEach(v => { const p = scales.x.getPixelForValue(v); tick(p, a.bottom, p, a.bottom + 6); });
    (o.xMinor || []).forEach(v => { const p = scales.x.getPixelForValue(v); tick(p, a.bottom, p, a.bottom + 4); });
    (o.xInner || []).forEach(v => { const p = scales.x.getPixelForValue(v); tick(p, a.bottom, p, a.bottom - 3); });
    (o.yMajor || []).forEach(v => { const p = scales.y.getPixelForValue(v); tick(a.left, p, a.left - 7, p); });
    (o.yMinor || []).forEach(v => { const p = scales.y.getPixelForValue(v); tick(a.left, p, a.left - 4, p); });
    (o.yRight || []).forEach(v => { const p = scales.y.getPixelForValue(v); tick(a.right, p, a.right + 7, p); });
    ctx.restore();
  }
};
Chart.register(framePlugin);

// chart box: plot rectangle L,T,R,B in page pixels, canvas padded around it
function makeChart(box, datasets, xOpt, yOpt, frame) {
  const padL = box.padL, padR = box.padR, padT = 16, padB = box.padB;
  const c = document.createElement("canvas");
  const w = box.R - box.L + padL + padR, h = box.B - box.T + padT + padB;
  c.width = w; c.height = h;
  c.style.left = (box.L - padL) + "px";
  c.style.top = (box.T - padT) + "px";
  c.style.width = w + "px"; c.style.height = h + "px";
  page.appendChild(c);
  // chart.js paints the highest order first, so the array order is the paint order
  datasets.forEach((d, i) => { d.order = datasets.length - i; });
  return new Chart(c, {
    type: "line",
    data: { datasets },
    options: {
      responsive: false, animation: false, events: [],
      devicePixelRatio: 1,
      layout: { padding: { left: 0, right: padR, top: padT, bottom: 0 } },
      plugins: { legend: { display: false }, tooltip: { enabled: false }, frame },
      scales: {
        x: Object.assign({
          afterFit(s) { s.height = padB; s.paddingLeft = 0; s.paddingRight = 0; },
          border: { display: false }, grid: { display: false, drawTicks: false }
        }, xOpt),
        y: Object.assign({
          reverse: true,
          afterFit(s) { s.width = padL; s.paddingTop = 0; s.paddingBottom = 0; },
          border: { display: false }, grid: { display: false, drawTicks: false }
        }, yOpt)
      }
    }
  });
}

function axisTicks(vals, fmt, pad, show, off) {
  return {
    afterBuildTicks(s) { s.ticks = vals.map(value => ({ value })); },
    ticks: { display: show, autoSkip: false, maxRotation: 0, minRotation: 0, padding: pad, labelOffset: off || 0, color: "#111", font: { family: FONT, size: 21 }, callback: fmt }
  };
}

function sectionPanel(box, regions, lines, mld, text, yRange, yT, yM, showY, showX) {
  const ds = [];
  regions.forEach(r => {
    ds.push({ data: pairs(r.slice(1)), fill: "shape", backgroundColor: levelColors[r[0]], borderWidth: 0, pointRadius: 0, tension: 0 });
  });
  lines.forEach(l => ds.push({ data: pairs(l), borderColor: "#fff", borderWidth: 1.6, pointRadius: 0, cubicInterpolationMode: "monotone", tension: 0.4, fill: false }));
  mld.forEach(l => ds.push({ data: pairs(l), borderColor: "#fff", borderWidth: 3.2, borderDash: [10, 6], pointRadius: 0, tension: 0.3, fill: false }));
  stationLats.forEach(lat => ds.push({ data: [{ x: lat, y: yRange[0] }, { x: lat, y: yRange[1] }], borderColor: "#111", borderWidth: 1.5, pointRadius: 0, fill: false }));
  return makeChart(
    Object.assign({ padL: 90, padR: 20, padB: 34 }, box), ds,
    Object.assign({ type: "linear", min: -65, max: 65 }, axisTicks(latTicks, v => latNames[latTicks.indexOf(v)], 7, showX)),
    Object.assign({ type: "linear", min: yRange[0], max: yRange[1] }, axisTicks(yT, v => String(v), 10, showY, 1.5)),
    { xMajor: latTicks, xMinor: latMinor, yMajor: yT, yMinor: yM, text }
  );
}

// ---- sections
sectionPanel({ L: 90, R: 1262, T: 33, B: 188 }, A_up, A_up_lines, A_up_mld, A_up_text, [0, 250], upTicks, upMinor, true, false);
sectionPanel({ L: 90, R: 1262, T: 211, B: 428 }, A_low, A_low_lines, [], A_low_text, [250, 2000], lowTicks, lowMinor, true, false);
sectionPanel({ L: 90, R: 1262, T: 490, B: 645 }, B_up, B_up_lines, B_up_mld, B_up_text, [0, 250], upTicks, upMinor, true, false);
sectionPanel({ L: 90, R: 1262, T: 668, B: 885 }, B_low, B_low_lines, [], B_low_text, [250, 2000], lowTicks, lowMinor, true, true);

// ---- colourbar
(function () {
  const W = 25;
  const c = document.createElement("canvas");
  c.width = 110; c.height = 633;
  c.style.left = "1297px"; c.style.top = "23px"; c.style.width = "110px"; c.style.height = "633px";
  page.appendChild(c);
  new Chart(c, {
    type: "bar",
    data: {
      labels: ["N2"],
      datasets: levelColors.map(col => ({ data: [1], backgroundColor: col, borderWidth: 0, barPercentage: 1, categoryPercentage: 1, stack: "s" }))
    },
    options: {
      responsive: false, animation: false, events: [], devicePixelRatio: 1,
      layout: { padding: { left: 0, right: 0, top: 10, bottom: 10 } },
      plugins: { legend: { display: false }, tooltip: { enabled: false }, frame: { yRight: cbarLabels.map((s, i) => i) } },
      scales: {
        x: { display: false, stacked: true },
        y: {
          stacked: true, position: "right", min: 0, max: 16,
          afterFit(s) { s.width = 110 - W; s.paddingTop = 0; s.paddingBottom = 0; },
          afterBuildTicks(s) { s.ticks = cbarLabels.map((t, i) => ({ value: i })); },
          border: { display: false }, grid: { display: false, drawTicks: false },
          ticks: { autoSkip: false, padding: 9, labelOffset: 1, color: "#111", font: { family: FONT, size: 21 }, callback: v => cbarLabels[v] }
        }
      }
    }
  });
})();

// ---- profile panels
const stations = [
  { tag: "C", name: "50.0\u2009°\u2009S", L: 89, up: [C_jfm, C_amj, C_jas, C_ond], mld: C_mld, low: [C_low_jfm, C_low_amj, C_low_jas, C_low], labels: true, tagX: 93, nameX: 125 },
  { tag: "D", name: "12.0\u2009°\u2009S", L: 296, up: [D_jfm, D_amj, D_jas, D_ond], mld: D_mld, low: [D_low, D_low, D_low, D_low], tagX: 293, nameX: 330 },
  { tag: "E", name: "1.0\u2009°\u2009S", L: 502, up: [E_jfm, E_amj, E_jas, E_ond], mld: E_mld, low: [E_low, E_low, E_low, E_low], tagX: 507, nameX: 543 },
  { tag: "F", name: "10.0\u2009°\u2009N", L: 708, up: [F_jfm, F_amj, F_jas, F_ond], mld: F_mld, low: [F_low, F_low, F_low, F_low], tagX: 709, nameX: 742 },
  { tag: "G", name: "27.0\u2009°\u2009N", L: 915, up: [G_jfm, G_amj, G_jas, G_ond], mld: G_mld, low: [G_low, G_low, G_low, G_low], tagX: 912, nameX: 948 },
  { tag: "H", name: "40.0\u2009°\u2009N", L: 1121, up: [H_jfm, H_amj, H_jas, H_ond], mld: H_mld, low: [H_low, H_low, H_low, H_low], tagX: 1122, nameX: 1154 }
];
const fromLog = v => Math.pow(10, v);

stations.forEach(st => {
  const R = st.L + 142;
  const xBase = { type: "logarithmic", min: 1e-6, max: 1e-3 };
  const upSets = [];
  st.mld.forEach((dep, i) => upSets.push({ data: [{ x: 1e-6, y: dep }, { x: 1e-3, y: dep }], borderColor: seasonColors[i], borderWidth: 1.5, borderDash: [6, 3], pointRadius: 0, fill: false }));
  st.up.forEach((arr, i) => upSets.push({ data: pairs(arr, fromLog), borderColor: seasonColors[i], borderWidth: 3.4, pointRadius: 0, tension: 0.3, fill: false, spanGaps: false }));
  makeChart({ L: st.L, R, T: 965, B: 1121, padL: 60, padR: 30, padB: 12 }, upSets,
    Object.assign({}, xBase, axisTicks(n2Ticks, () => "", 6, false)),
    Object.assign({ type: "linear", min: 0, max: 250 }, axisTicks(upTicks, v => String(v), 10, !!st.labels, 1.5)),
    { xMajor: n2Ticks, xInner: n2Minor, yMajor: upTicks, yMinor: upMinor, gridX: n2Ticks.slice(1, 3), gridY: [100, 200] });

  const lowSets = [];
  st.low.forEach((arr, i) => lowSets.push({ data: pairs(arr, fromLog), borderColor: seasonColors[i], borderWidth: 3.8, pointRadius: 0, tension: 0.3, fill: false }));
  makeChart({ L: st.L, R, T: 1143, B: 1361, padL: 60, padR: 30, padB: 34 }, lowSets,
    Object.assign({}, xBase, axisTicks(n2Ticks, () => "", 8, false)),
    Object.assign({ type: "linear", min: 250, max: 2000 }, axisTicks(lowTicks, v => String(v), 10, !!st.labels, 1.5)),
    { xMajor: n2Ticks, xInner: n2Minor, yMajor: lowTicks, yMinor: lowMinor, gridX: n2Ticks.slice(1, 3), gridY: [500, 1000, 1500], powers: true });

  txt(st.tagX, 945, st.tag, 28, { fontWeight: "bold" });
  txt(st.nameX, 948, st.name, 22);
  txt(st.L + 37, 1410, "N<sup>2</sup> [s<sup>−2</sup>]", 21);
});

// ---- page text
txt(93, 15, "A", 28, { fontWeight: "bold" });
txt(93, 471, "B", 28, { fontWeight: "bold" });
txt(652, 17, "JFM", 23);
txt(653, 473, "JAS", 23);
[321, 778, 1254].forEach(cy => {
  txt(-31, cy, "Depth [m]", 21, { width: "84px", textAlign: "center", transform: "rotate(-90deg)" });
});
txt(1365, 339, "N<sup>2</sup> [s<sup>−2</sup>]", 21, { width: "80px", textAlign: "center", transform: "rotate(-90deg)" });

// ---- legend
txt(1287, 979, "Season", 21);
seasons.forEach((s, i) => {
  const y = [1010, 1041, 1072, 1104][i];
  txt(1327, y, s, 21);
  const line = document.createElement("div");
  line.style.cssText = "position:absolute;left:1273px;width:43px;height:3px;top:" + (y - 1) + "px;background:" + seasonColors[i];
  page.appendChild(line);
});
</script>
</body>
</html>
